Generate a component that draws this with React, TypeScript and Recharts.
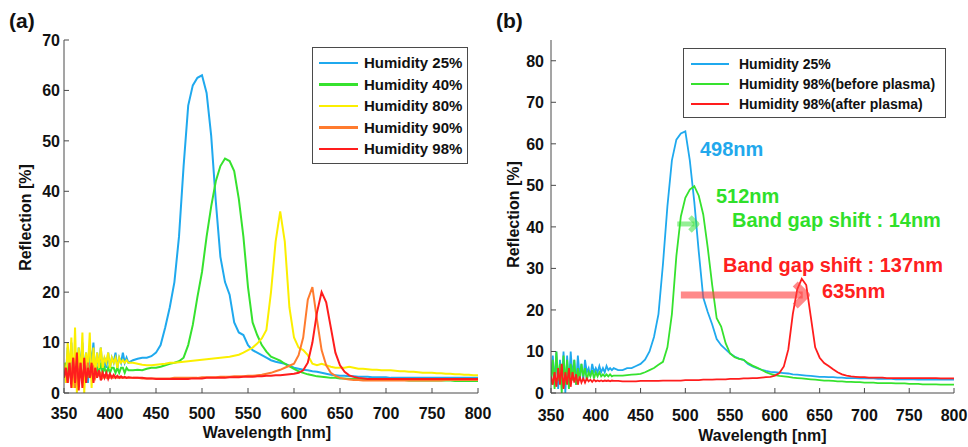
import React from 'react';
import { LineChart, Line, XAxis, YAxis, Legend, Label, ReferenceLine } from 'recharts';

const FONT = '"Liberation Sans", Arial, Helvetica, sans-serif';
const FRAME = '#4a4a4a';
const INK = '#111';

const BLUE = '#1fa9ee';
const GREEN = '#36e22e';
const YELLOW = '#fbef00';
const ORANGE = '#ff7b2e';
const RED = '#ff1d1d';

// wavelength grid [nm]: 2 nm through the noisy UV end, 5 nm after that
const wavelengths = [
  350, 352, 354, 356, 358, 360, 362, 364, 366, 368,
  370, 372, 374, 376, 378, 380, 382, 384, 386, 388,
  390, 392, 394, 396, 398, 400, 402, 404, 406, 408,
  410, 412, 414, 416, 418, 420,
  425, 430, 435, 440, 445, 450, 455, 460, 465, 470,
  475, 480, 485, 490, 495, 500, 505, 510, 515, 520,
  525, 530, 535, 540, 545, 550, 555, 560, 565, 570,
  575, 580, 585, 590, 595, 600, 605, 610, 615, 620,
  625, 630, 635, 640, 645, 650, 655, 660, 665, 670,
  675, 680, 685, 690, 695, 700, 705, 710, 715, 720,
  725, 730, 735, 740, 745, 750, 755, 760, 765, 770,
  775, 780, 785, 790, 795, 800,
];

// (a) reflection [%]
const humid25 = [
  5, 3, 9, 4, 10, 2, 7, 3, 9, 5,
  10, 4, 8, 2, 9, 6, 10, 3, 8, 5,
  9, 4, 7, 5, 8, 5, 7, 6, 8, 5,
  7, 6, 8, 6, 7, 6,
  6.5, 6.8, 7, 7, 7.3, 8, 9.5, 13, 17, 22,
  31, 45, 57, 61, 62.5, 63, 59.5, 51, 38, 27,
  22, 19.5, 14, 12, 11.5, 9.5, 8.5, 8, 7.5, 7,
  6.5, 6.2, 6, 5.8, 5.4, 5, 4.8, 4.6, 4.5, 4.3,
  4.2, 4, 3.8, 3.6, 3.5, 3.4, 3.4, 3.3, 3.3, 3.2,
  3.2, 3.2, 3.1, 3.1, 3.1, 3.1, 3, 3, 3, 3,
  3, 3, 3, 3, 3, 3, 3, 3, 3, 3,
  3, 3, 3, 3, 3, 3,
];
const humid40 = [
  4, 6, 3, 7, 2, 5, 4, 8, 3, 6,
  2, 5, 7, 3, 5, 4, 6, 3, 5, 4,
  6, 4, 5, 4, 5, 4, 5, 5, 4, 5,
  4, 5, 5, 4, 5, 4.5,
  4.5, 4.6, 4.5, 4.8, 5, 5, 5.2, 5.5, 5.8, 6,
  6.3, 7, 9.5, 13.5, 19, 24, 31, 37, 42, 45,
  46.5, 46, 44, 38.5, 31, 21, 14, 11.5, 9.5, 8.2,
  7.2, 6.8, 6.4, 5.8, 5.3, 4.8, 4.3, 4, 3.7, 3.5,
  3.3, 3.2, 3.1, 3, 3, 2.9, 2.9, 2.8, 2.8, 2.8,
  2.7, 2.7, 2.7, 2.7, 2.6, 2.6, 2.6, 2.6, 2.6, 2.6,
  2.5, 2.5, 2.5, 2.5, 2.5, 2.5, 2.5, 2.5, 2.5, 2.5,
  2.4, 2.4, 2.4, 2.4, 2.4, 2.4,
];
const humid80 = [
  6, 2, 10, 4, 11, 1, 13, 0, 9, 3,
  12, 0, 8, 5, 12, 1, 9, 4, 8, 5,
  9, 5, 7, 6, 8, 5, 7, 6, 7, 5,
  7, 6, 6.5, 6, 6.5, 6,
  6, 5.8, 5.6, 5.5, 5.5, 5.6, 5.7, 5.8, 6, 6,
  6.1, 6.2, 6.3, 6.4, 6.5, 6.6, 6.7, 6.8, 6.9, 7,
  7.1, 7.2, 7.4, 7.6, 8, 8.5, 9, 9.8, 10.8, 12.5,
  20, 30, 36, 30, 17, 11, 9, 8.5, 7.5, 5.8,
  5.5, 5.8, 5.5, 5.2, 5, 5, 5, 5.2, 5, 4.8,
  4.8, 4.7, 4.6, 4.6, 4.5, 4.5, 4.5, 4.4, 4.3, 4.3,
  4.2, 4.2, 4.1, 4, 4, 4, 3.9, 3.9, 3.8, 3.8,
  3.7, 3.7, 3.6, 3.6, 3.5, 3.5,
];
const humid90 = [
  3, 5, 2, 6, 3, 7, 1, 5, 4, 6,
  2, 5, 3, 6, 3, 4, 5, 3, 4, 3.5,
  4, 3, 3.5, 3, 3.5, 3, 3.3, 3, 3.2, 3,
  3.2, 3, 3.1, 3, 3, 3,
  3, 3, 2.9, 2.9, 2.9, 2.9, 2.9, 2.9, 2.9, 3,
  3, 3, 3, 3, 3, 3.1, 3.1, 3.1, 3.1, 3.2,
  3.2, 3.2, 3.3, 3.3, 3.3, 3.4, 3.4, 3.5, 3.6, 3.8,
  4, 4.3, 4.6, 5, 5.4, 5.8, 7.5, 11, 18.5, 21,
  14.5, 8.5, 5.5, 4, 3.4, 3, 2.8, 2.7, 2.6, 2.6,
  2.5, 2.5, 2.5, 2.5, 2.5, 2.5, 2.5, 2.5, 2.5, 2.5,
  2.5, 2.5, 2.5, 2.5, 2.5, 2.5, 2.5, 2.5, 2.6, 2.6,
  2.6, 2.6, 2.6, 2.6, 2.6, 2.6,
];
const humid98 = [
  3, 5, 2, 6, 1, 7, 2, 8, 0.5, 6,
  1, 7, 2, 5, 3, 6, 2, 5, 3, 4.5,
  2.5, 4, 3, 4, 2.8, 3.8, 3, 3.6, 3, 3.4,
  3, 3.3, 3, 3.2, 3, 3.1,
  3, 3, 3, 2.9, 2.9, 2.8, 2.8, 2.8, 2.8, 2.8,
  2.8, 2.8, 2.8, 2.9, 2.9, 2.9, 3, 3, 3, 3,
  3, 3.1, 3.1, 3.1, 3.2, 3.2, 3.2, 3.3, 3.3, 3.4,
  3.4, 3.5, 3.5, 3.6, 3.7, 3.8, 4, 4.5, 6, 10,
  16, 20, 18, 13, 8, 5.5, 4.2, 3.5, 3.2, 3,
  2.9, 2.8, 2.8, 2.8, 2.8, 2.8, 2.8, 2.8, 2.8, 2.8,
  2.8, 2.8, 2.8, 2.8, 2.8, 2.8, 2.8, 2.8, 2.8, 2.8,
  2.8, 2.8, 2.8, 2.8, 2.8, 2.8,
];

// (b) reflection [%]
const plasma25 = [
  3, 9, 2, 10, 1, 8, 3, 10, 0, 9,
  2, 10, 4, 8, 2, 9, 4, 7, 3, 8,
  5, 6, 4, 7, 5, 6, 5, 6.5, 5, 6,
  5, 6.5, 5.5, 6, 5.5, 6,
  5.5, 5.5, 6, 6, 6.5, 7, 8, 10, 13.5, 19,
  31, 45, 56, 61, 62.5, 63, 56, 46, 34, 23,
  19.5, 16.5, 13, 11.5, 10.5, 9.5, 8.8, 8.3, 8, 7,
  6.4, 6, 5.6, 5.3, 5.1, 5, 4.9, 4.8, 4.7, 4.5,
  4.4, 4.3, 4.2, 4.1, 4, 3.9, 3.9, 3.8, 3.8, 3.7,
  3.7, 3.6, 3.6, 3.6, 3.5, 3.5, 3.5, 3.5, 3.4, 3.4,
  3.4, 3.4, 3.3, 3.3, 3.3, 3.3, 3.3, 3.2, 3.2, 3.2,
  3.2, 3.2, 3.2, 3.2, 3.2, 3.2,
];
const beforePlasma = [
  2, 8, 1, 10, 3, 7, 0, 9, 2, 8,
  1, 7, 3, 8, 2, 6, 3, 7, 4, 6,
  3, 5, 4, 5.5, 3.5, 5, 4, 5, 4, 4.5,
  4, 4.5, 4, 4.5, 4, 4.2,
  4.2, 4.2, 4.3, 4.4, 4.5, 4.6, 5, 5.5, 6, 6.8,
  7.5, 11, 19, 33, 42.5, 47, 49, 49.8, 47.5, 43,
  35, 26, 18, 16, 12, 9.5, 8.6, 8.2, 8, 7.2,
  6.6, 6.1, 5.6, 5, 4.6, 4.3, 4.1, 4, 3.9, 3.7,
  3.6, 3.5, 3.4, 3.3, 3.2, 3.1, 3, 3, 2.9, 2.8,
  2.8, 2.7, 2.7, 2.6, 2.6, 2.5, 2.5, 2.5, 2.4, 2.4,
  2.4, 2.4, 2.3, 2.3, 2.3, 2.2, 2.2, 2.2, 2.1, 2.1,
  2.1, 2.1, 2, 2, 2, 2,
];
const afterPlasma = [
  4, 2, 5, 1.5, 6, 2, 7, 1, 5, 2,
  6, 1.5, 5, 2.5, 4.5, 2, 4, 2.5, 3.5, 2.5,
  3.5, 2.8, 3.2, 2.7, 3.2, 2.8, 3, 2.8, 3, 2.8,
  3, 2.9, 3, 2.8, 3, 2.9,
  2.9, 2.8, 2.8, 2.8, 2.8, 2.9, 2.9, 2.9, 2.9, 2.9,
  3, 3, 3, 3, 3, 3.1, 3.1, 3.1, 3.1, 3.2,
  3.2, 3.2, 3.3, 3.3, 3.3, 3.4, 3.4, 3.4, 3.5, 3.5,
  3.6, 3.6, 3.7, 3.8, 3.9, 4.2, 4.8, 6.4, 10.5, 19,
  25, 27.5, 26, 18.5, 11, 8.5, 7.2, 6.5, 5.7, 5,
  4.5, 4.2, 4, 3.9, 3.8, 3.8, 3.7, 3.7, 3.7, 3.7,
  3.6, 3.6, 3.6, 3.6, 3.6, 3.6, 3.6, 3.6, 3.6, 3.6,
  3.6, 3.6, 3.5, 3.5, 3.5, 3.5,
];

const xTicks = [350, 400, 450, 500, 550, 600, 650, 700, 750, 800];
const yTicksA = [0, 10, 20, 30, 40, 50, 60, 70];
const yTicksB = [0, 10, 20, 30, 40, 50, 60, 70, 80];

// band gap shift arrows in (b): start / end wavelength and reflection level
const shiftFrom = [491, 495];
const shiftTo = [513, 635];
const shiftLevel = [40.7, 23.6];

const rows = wavelengths.map((wl, i) => ({
  wl,
  h25: humid25[i],
  h40: humid40[i],
  h80: humid80[i],
  h90: humid90[i],
  h98: humid98[i],
  p25: plasma25[i],
  before: beforePlasma[i],
  after: afterPlasma[i],
}));

const seriesA = [
  { key: 'h25', name: 'Humidity 25%', color: BLUE },
  { key: 'h40', name: 'Humidity 40%', color: GREEN },
  { key: 'h80', name: 'Humidity 80%', color: YELLOW },
  { key: 'h90', name: 'Humidity 90%', color: ORANGE },
  { key: 'h98', name: 'Humidity 98%', color: RED },
];
const seriesB = [
  { key: 'p25', name: 'Humidity 25%', color: BLUE },
  { key: 'before', name: 'Humidity 98%(before plasma)', color: GREEN },
  { key: 'after', name: 'Humidity 98%(after plasma)', color: RED },
];

const boldText = { fontFamily: FONT, fontWeight: 'bold' as const, fill: INK };

// ticks point into the plot on all four sides, like the original figure
const bottomTick = (labelDy: number) => (p: any) => (
  <g>
    <line x1={p.x} x2={p.x} y1={p.y} y2={p.y - 5} stroke={FRAME} />
    <text x={p.x} y={p.y + labelDy} textAnchor="middle" fontSize={16} {...boldText}>
      {p.payload.value}
    </text>
  </g>
);
const leftTick = (gap: number) => (p: any) => (
  <g>
    <line x1={p.x} x2={p.x + 5} y1={p.y} y2={p.y} stroke={FRAME} />
    <text x={p.x - gap} y={p.y} dy="0.36em" textAnchor="end" fontSize={16} {...boldText}>
      {p.payload.value}
    </text>
  </g>
);
const topTick = (p: any) => <line x1={p.x} x2={p.x} y1={p.y} y2={p.y + 5} stroke={FRAME} />;
const rightTick = (p: any) => <line x1={p.x} x2={p.x - 5} y1={p.y} y2={p.y} stroke={FRAME} />;

function XTitle({ viewBox, dx, baseline }: any) {
  return (
    <text x={viewBox.x + viewBox.width / 2 + dx} y={viewBox.y + baseline} textAnchor="middle" fontSize={16} {...boldText}>
      Wavelength [nm]
    </text>
  );
}

function YTitle({ viewBox, cx, dy }: any) {
  const cy = viewBox.y + viewBox.height / 2 + dy;
  return (
    <text
      x={cx}
      y={cy}
      transform={`rotate(-90, ${cx}, ${cy})`}
      textAnchor="middle"
      dominantBaseline="central"
      fontSize={16}
      {...boldText}
    >
      Reflection [%]
    </text>
  );
}

function LegendBox({ items, width, height, padTop, rowH, swatchX, swatchW, textX, fontSize }: any) {
  return (
    <div
      style={{
        position: 'relative',
        width,
        height,
        boxSizing: 'border-box',
        border: `1px solid ${FRAME}`,
        background: '#fff',
      }}
    >
      {items.map((s: any, i: number) => (
        <div key={s.key} style={{ position: 'absolute', left: 0, top: padTop + i * rowH, height: rowH, width: '100%' }}>
          <div
            style={{
              position: 'absolute',
              left: swatchX,
              top: rowH / 2 - 1.25,
              width: swatchW,
              height: 2.5,
              background: s.color,
            }}
          />
          <span
            style={{
              position: 'absolute',
              left: textX,
              top: 0,
              lineHeight: `${rowH}px`,
              fontSize,
              fontWeight: 'bold',
              fontFamily: FONT,
              color: INK,
              whiteSpace: 'nowrap',
            }}
          >
            {s.name}
          </span>
        </div>
      ))}
    </div>
  );
}

function ShiftArrow({ x1, y1, x2, y2, color, width, head }: any) {
  return (
    <g>
      <line x1={x1} y1={y1} x2={x2 - width / 2} y2={y2} stroke={color} strokeWidth={width} />
      <polyline
        points={`${x2 - head},${y2 - head} ${x2},${y2} ${x2 - head},${y2 + head}`}
        fill="none"
        stroke={color}
        strokeWidth={width}
        strokeLinejoin="round"
      />
    </g>
  );
}

function PanelA() {
  return (
    <LineChart width={500} height={447} data={rows} margin={{ top: 40, right: 22, bottom: 0, left: 0 }}>
      <XAxis
        dataKey="wl"
        type="number"
        domain={[350, 800]}
        ticks={xTicks}
        interval={0}
        allowDataOverflow
        height={54}
        tickSize={0}
        tickMargin={0}
        tickLine={false}
        axisLine={{ stroke: FRAME }}
        tick={bottomTick(26)}
      >
        <Label content={(p: any) => <XTitle viewBox={p.viewBox} dx={-4} baseline={45} />} />
      </XAxis>
      <XAxis
        xAxisId="top"
        orientation="top"
        type="number"
        domain={[350, 800]}
        ticks={xTicks}
        interval={0}
        height={0}
        tickSize={0}
        tickMargin={0}
        tickLine={false}
        axisLine={{ stroke: FRAME }}
        tick={topTick}
      />
      <YAxis
        type="number"
        domain={[0, 70]}
        ticks={yTicksA}
        interval={0}
        allowDataOverflow
        width={64}
        tickSize={0}
        tickMargin={0}
        tickLine={false}
        axisLine={{ stroke: FRAME }}
        tick={leftTick(4)}
      >
        <Label content={(p: any) => <YTitle viewBox={p.viewBox} cx={25} dy={1} />} />
      </YAxis>
      <YAxis
        yAxisId="right"
        orientation="right"
        type="number"
        domain={[0, 70]}
        ticks={yTicksA}
        interval={0}
        width={0}
        tickSize={0}
        tickMargin={0}
        tickLine={false}
        axisLine={{ stroke: FRAME }}
        tick={rightTick}
      />
      {seriesA.map((s) => (
        <Line
          key={s.key}
          dataKey={s.key}
          name={s.name}
          stroke={s.color}
          strokeWidth={2}
          type="linear"
          dot={false}
          activeDot={false}
          isAnimationActive={false}
        />
      ))}
      <Legend
        layout="horizontal"
        verticalAlign="middle"
        wrapperStyle={{ left: 312, top: 47, width: 156, height: 117 }}
        content={() => (
          <LegendBox
            items={seriesA}
            width={156}
            height={117}
            padTop={4}
            rowH={21.6}
            swatchX={6}
            swatchW={39}
            textX={51}
            fontSize={15}
          />
        )}
      />
    </LineChart>
  );
}

function PanelB() {
  return (
    <LineChart width={484} height={447} data={rows} margin={{ top: 40, right: 14, bottom: 0, left: 0 }}>
      <XAxis
        dataKey="wl"
        type="number"
        domain={[350, 800]}
        ticks={xTicks}
        interval={0}
        allowDataOverflow
        height={54}
        tickSize={0}
        tickMargin={0}
        tickLine={false}
        axisLine={{ stroke: FRAME }}
        tick={bottomTick(28)}
      >
        <Label content={(p: any) => <XTitle viewBox={p.viewBox} dx={10} baseline={48} />} />
      </XAxis>
      <XAxis
        xAxisId="top"
        orientation="top"
        type="number"
        domain={[350, 800]}
        ticks={xTicks}
        interval={0}
        height={0}
        tickSize={0}
        tickMargin={0}
        tickLine={false}
        axisLine={{ stroke: FRAME }}
        tick={topTick}
      />
      <YAxis
        type="number"
        domain={[0, 85]}
        ticks={yTicksB}
        interval={0}
        allowDataOverflow
        width={67}
        tickSize={0}
        tickMargin={0}
        tickLine={false}
        axisLine={{ stroke: FRAME }}
        tick={leftTick(7)}
      >
        <Label content={(p: any) => <YTitle viewBox={p.viewBox} cx={29} dy={-2} />} />
      </YAxis>
      <YAxis
        yAxisId="right"
        orientation="right"
        type="number"
        domain={[0, 85]}
        ticks={yTicksB}
        interval={0}
        width={0}
        tickSize={0}
        tickMargin={0}
        tickLine={false}
        axisLine={{ stroke: FRAME }}
        tick={rightTick}
      />
      {seriesB.map((s) => (
        <Line
          key={s.key}
          dataKey={s.key}
          name={s.name}
          stroke={s.color}
          strokeWidth={1.8}
          type="linear"
          dot={false}
          activeDot={false}
          isAnimationActive={false}
        />
      ))}
      <ReferenceLine
        segment={[
          { x: shiftFrom[0], y: shiftLevel[0] },
          { x: shiftTo[0], y: shiftLevel[0] },
        ]}
        shape={(p: any) => <ShiftArrow {...p} color="rgba(60,225,60,0.55)" width={5} head={7} />}
      />
      <ReferenceLine
        segment={[
          { x: shiftFrom[1], y: shiftLevel[1] },
          { x: shiftTo[1], y: shiftLevel[1] },
        ]}
        shape={(p: any) => <ShiftArrow {...p} color="rgba(255,60,60,0.6)" width={7} head={11} />}
      />
      <Legend
        layout="horizontal"
        verticalAlign="middle"
        wrapperStyle={{ left: 199, top: 48, width: 263, height: 70 }}
        content={() => (
          <LegendBox
            items={seriesB}
            width={263}
            height={70}
            padTop={5}
            rowH={20}
            swatchX={7}
            swatchW={38}
            textX={55}
            fontSize={14}
          />
        )}
      />
    </LineChart>
  );
}

export default function App() {
  const note = { fontFamily: FONT, fontWeight: 'bold' as const, fontSize: 20 };
  return (
    <div style={{ position: 'absolute', left: 0, top: 0, width: 968, height: 447, background: '#fff' }}>
      <div style={{ position: 'absolute', left: 0, top: 0 }}>
        <PanelA />
      </div>
      <div style={{ position: 'absolute', left: 484, top: 0 }}>
        <PanelB />
      </div>
      <svg
        width={968}
        height={447}
        style={{ position: 'absolute', left: 0, top: 0, pointerEvents: 'none' }}
      >
        <text x={9} y={28} fontSize={21} {...boldText}>(a)</text>
        <text x={496} y={28} fontSize={21} {...boldText}>(b)</text>
        <text x={700} y={156} fill="#22a8ec" {...note}>498nm</text>
        <text x={716} y={203} fill="#2fe02a" {...note}>512nm</text>
        <text x={732} y={227} fill="#2fe02a" {...note}>Band gap shift : 14nm</text>
        <text x={723} y={272} fill="#ff2020" {...note}>Band gap shift : 137nm</text>
        <text x={822} y={298} fill="#ff2020" {...note}>635nm</text>
      </svg>
    </div>
  );
}
